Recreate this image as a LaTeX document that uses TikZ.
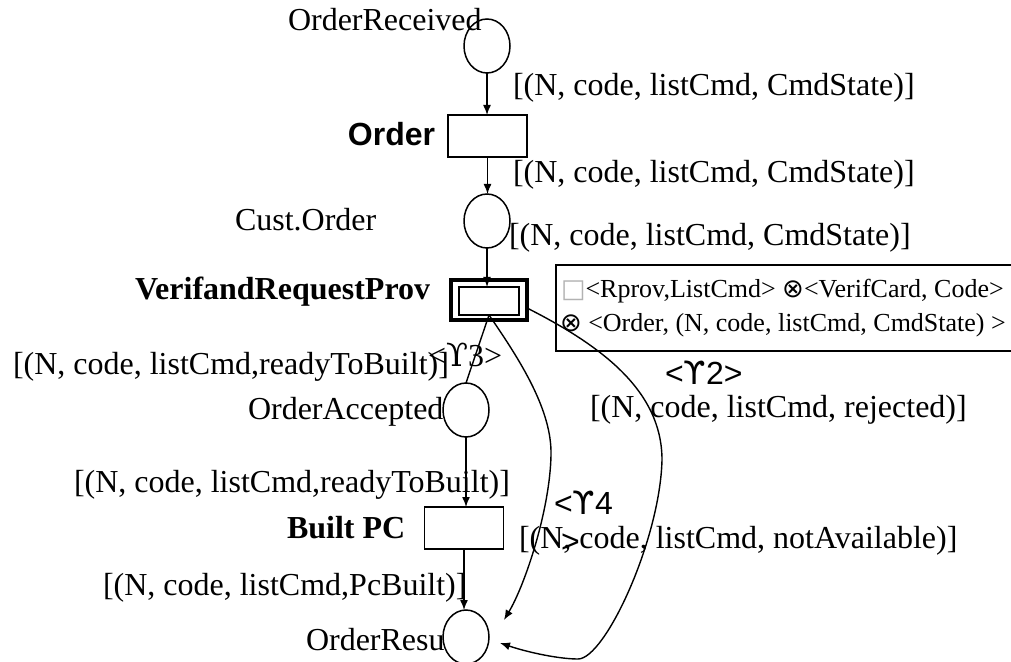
\documentclass[tikz,border=0pt]{standalone}
\usepackage{fontspec}
\setmainfont{Liberation Serif}
\newfontfamily\arialfont{Liberation Sans}
\newfontfamily\dvsans{DejaVu Sans}
\newfontfamily\dvserif{DejaVu Serif}
\usetikzlibrary{arrows.meta,shapes.geometric}

\begin{document}
\begin{tikzpicture}[x=0.5pt,y=-0.5pt,
  every node/.style={inner sep=0pt,outer sep=0pt},
  place/.style={draw,ellipse,minimum width=23pt,minimum height=27pt,line width=0.75pt},
  trans/.style={draw,rectangle,minimum width=39.5pt,minimum height=21pt,line width=0.8pt},
  lbl/.style={anchor=west,font=\fontsize{16}{19}\selectfont},
  boxtxt/.style={anchor=west,font=\fontsize{13}{16}\selectfont},
  arc/.style={-{Latex[length=5pt,width=4pt]},line width=0.7pt},
  plainarc/.style={line width=0.7pt}]

\useasboundingbox (0,0) rectangle (1011,662);

% places and transitions
\node[place] (recv) at (487,46) {};
\node[trans] (ord) at (487.5,136) {};
\node[place] (cust) at (487,221) {};
\node[draw,line width=2pt,minimum width=38pt,minimum height=20pt] (vout) at (489,300) {};
\node[draw,line width=0.8pt,minimum width=30pt,minimum height=14pt] (vin) at (489,301) {};
\node[place] (acc) at (466,410) {};
\node[trans] (built) at (464,528) {};
\node[place] (res) at (466,637) {};

% annotation box
\node[draw,line width=0.6pt,anchor=north west,minimum width=230pt,minimum height=43pt] (ann) at (556,265) {};
\node[boxtxt] (ann1) at (561,291) {{\color{gray!60}\dvsans □}<Rprov,ListCmd> {\dvsans ⊗}<VerifCard, Code>};
\node[boxtxt] (ann2) at (560,325) {{\dvsans ⊗} <Order, (N, code, listCmd, CmdState) >};

% free ends of the curved arcs
\coordinate (t4) at (504,620);
\coordinate (t2) at (500,643);

% arcs
\draw[arc] (recv.south) -- (recv.south |- ord.north);
\draw[arc] (ord.south) -- (ord.south |- cust.north);
\draw[arc] (cust.south) -- (cust.south |- vin.north);
\draw[plainarc] (vin.south) -- (acc.north);
\draw[arc] (acc.south) -- (acc.south |- built.north);
\draw[arc] (built.south) -- (built.south |- res.north);
\draw[arc] (vin.south) .. controls (520,360) and (552,410) .. (551,455)
  .. controls (550,510) and (525,585) .. (t4);
\draw[arc] ([yshift=-4pt]vout.east) .. controls (600,345) and (662,390) .. (662,460)
  .. controls (660,540) and (605,659) .. (578,659)
  .. controls (560,659) and (530,653) .. (t2);

% labels
\node[lbl] (lrecv) at (288,20) {OrderReceived};
\node[lbl] (a1) at (513,88) {[(N, code, listCmd, CmdState)]};
\node[anchor=center,font=\arialfont\bfseries\fontsize{16}{19}\selectfont] (lord) at (391.5,134) {Order};
\node[lbl] (a2) at (513,175) {[(N, code, listCmd, CmdState)]};
\node[lbl] (lcust) at (235,220) {Cust.Order};
\node[lbl] (a3) at (509,238) {[(N, code, listCmd, CmdState)]};
\node[lbl,font=\bfseries\fontsize{16}{19}\selectfont] (lverif) at (135,292) {VerifandRequestProv};
\node[lbl] (g3) at (428,355) {<{\dvserif ϒ}3>};
\node[lbl] (a4) at (13,367) {[(N, code, listCmd,readyToBuilt)]};
\node[lbl] (lacc) at (248,412) {OrderAccepted};
\node[lbl,font=\arialfont\fontsize{16}{19}\selectfont] (g2) at (665,373) {<{\dvsans ϒ}2>};
\node[lbl] (a5) at (590,410) {[(N, code, listCmd, rejected)]};
\node[lbl] (a6) at (74,485) {[(N, code, listCmd,readyToBuilt)]};
\node[lbl,font=\bfseries\fontsize{16}{19}\selectfont] (lbuilt) at (287,528) {Built PC};
\node[lbl,font=\arialfont\fontsize{16}{19}\selectfont] (g4) at (554,503) {<{\dvsans ϒ}4};
\node[lbl] (a7) at (519,541) {[(N, code, listCmd, notAvailable)]};
\node[lbl,font=\arialfont\fontsize{16}{19}\selectfont] (g4b) at (561,543) {>};
\node[lbl] (a8) at (103,588) {[(N, code, listCmd,PcBuilt)]};
\node[lbl] (lres) at (306,640) {OrderResu};

\end{tikzpicture}
\end{document}
